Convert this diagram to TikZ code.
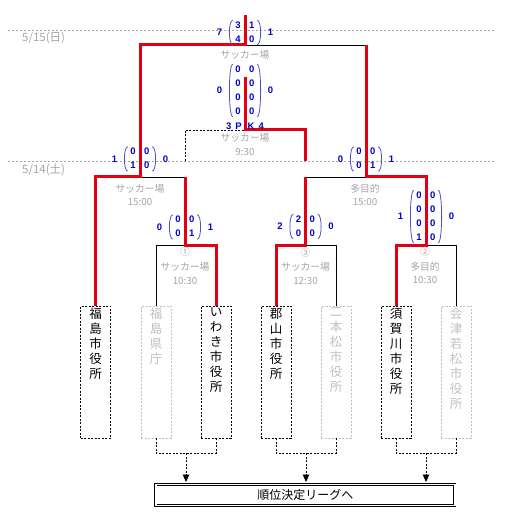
\documentclass[tikz,border=0pt]{standalone}
\usepackage{fontspec}
\setmainfont{Liberation Sans}
\newfontfamily\jp{Noto Sans CJK JP}
\usetikzlibrary{arrows.meta}
\definecolor{win}{RGB}{228,0,18}
\definecolor{lbl}{RGB}{165,165,165}
\definecolor{lose}{RGB}{192,192,192}
\definecolor{scoreblue}{RGB}{0,0,205}
\definecolor{parcol}{RGB}{80,80,200}
\tikzset{
  redl/.style={draw=win, line width=3pt},
  blk/.style={draw=black, line width=0.9pt},
  dsh/.style={draw=black, line width=0.9pt, dash pattern=on 2pt off 1.5pt},
  gridl/.style={draw=lbl, line width=0.7pt, dash pattern=on 2pt off 2pt},
  teambox/.style={draw=black, dash pattern=on 2pt off 1.5pt, line width=0.9pt, minimum width=30pt, minimum height=132pt, inner sep=0pt},
  losebox/.style={teambox, draw=lose},
  teamtxt/.style={anchor=north, align=center, font=\jp\fontsize{12.5}{15}\selectfont, inner sep=0pt},
  loseteam/.style={teamtxt, text=lose},
  lab/.style={text=lbl, font=\jp\fontsize{9.8}{11}\selectfont, inner sep=0pt},
  date/.style={text=lbl, font=\jp\fontsize{11.5}{13}\selectfont, inner sep=0pt, anchor=west},
  scr/.style={text=scoreblue, font=\bfseries\fontsize{9.5}{14}\selectfont, inner xsep=0pt, inner ysep=-2pt},
  tot/.style={text=scoreblue, font=\bfseries\fontsize{9.5}{11}\selectfont, inner sep=0pt},
  parl/.style={draw=parcol, line width=0.8pt},
  finbox/.style={draw=black, double, double distance=1.4pt, line width=0.8pt, minimum width=299pt, minimum height=21pt, font=\jp\fontsize{12}{14}\selectfont},
  arr/.style={dsh, -{Triangle[width=6.5pt,length=7.5pt]}}
}
\newcommand\ScoreBox[5]{%
  \node[scr] (#1) at #2 {\begin{tabular}{@{}c@{\hspace{8.5pt}}c@{}}#3\end{tabular}};
  \draw[parl] ([xshift=-2.5pt]#1.north west) .. controls ([xshift=-7pt]#1.north west) and ([xshift=-7pt]#1.south west) .. ([xshift=-2.5pt]#1.south west);
  \draw[parl] ([xshift=2.5pt]#1.north east) .. controls ([xshift=7pt]#1.north east) and ([xshift=7pt]#1.south east) .. ([xshift=2.5pt]#1.south east);
  \node[tot, anchor=east] (#1L) at ([xshift=-13pt]#1.west) {#4};
  \node[tot, anchor=west] (#1R) at ([xshift=13pt]#1.east) {#5};
}
\begin{document}
\begin{tikzpicture}[x=1pt,y=-1pt]
\useasboundingbox (0,0) rectangle (507,529);
\fill[white] (0,0) rectangle (507,529);
% day separators
\draw[gridl] (8,30) -- (495,30);
\draw[gridl] (8,161) -- (495,161);
\node[date] (d1) at (22,38) {5/15(日)};
\node[date] (d2) at (22,170) {5/14(土)};
% teams
\node[teambox] (t1) at (95.5,372) {};
\node[teamtxt] (t1n) at (95.5,308) {福\\島\\市\\役\\所};
\node[losebox] (t2) at (156,372) {};
\node[loseteam] (t2n) at (156,308) {福\\島\\県\\庁};
\node[teambox] (t3) at (216,372) {};
\node[teamtxt] (t3n) at (216,308) {い\\わ\\き\\市\\役\\所};
\node[teambox] (t4) at (276,372) {};
\node[teamtxt] (t4n) at (276,308) {郡\\山\\市\\役\\所};
\node[losebox] (t5) at (336,372) {};
\node[loseteam] (t5n) at (336,308) {二\\本\\松\\市\\役\\所};
\node[teambox] (t6) at (396,372) {};
\node[teamtxt] (t6n) at (396,308) {須\\賀\\川\\市\\役\\所};
\node[losebox] (t7) at (456,372) {};
\node[loseteam] (t7n) at (456,308) {会\\津\\若\\松\\市\\役\\所};
% junctions
\coordinate (r1) at (185,245);
\coordinate (r3) at (305.5,245);
\coordinate (r2) at (426,245);
\coordinate (sL) at (140,177);
\coordinate (sR) at (366,177);
\coordinate (fin) at (245,45);
\coordinate (top) at (245,15);
\coordinate (tp) at (245,130);
\coordinate (tpL) at (185,161);
\coordinate (tpR) at (305.5,161);
\coordinate (tpTop) at (245,77);
% black lines
\draw[blk] (t2.north) |- (r1);
\draw[blk] (r3) -| (t5.north);
\draw[blk] (r2) -| (t7.north);
\draw[blk] (sL) -- (r1 |- sL);
\draw[blk] (r3 |- sR) -- (sR);
\draw[blk] (fin) -- (sR |- fin);
\draw[dsh] (tpL) |- (tp);
% red winning paths
\draw[redl] (t1.north) |- (sL) -- (sL |- fin) -- (fin) -- (top);
\draw[redl] (t3.north) |- (r1) -- (r1 |- sL);
\draw[redl] (t4.north) |- (r3) -- (r3 |- sR);
\draw[redl] (t6.north) |- (r2) -- (r2 |- sR) -- (sR) -- (sR |- fin);
\draw[redl] (tpR) |- (tp) -- (tpTop);
% venue labels
\node[lab] (l0) at (245,55) {サッカー場};
\node[lab] (l3a) at (245,138) {サッカー場};
\node[lab] (l3b) at (245,152) {9:30};
\node[lab] (lsa) at (140,189) {サッカー場};
\node[lab] (lsb) at (140,202) {15:00};
\node[lab] (rsa) at (365,189) {多目的};
\node[lab] (rsb) at (365,202) {15:00};
\node[lab] (m1a) at (185,252) {①};
\node[lab] (m1b) at (185,267) {サッカー場};
\node[lab] (m1c) at (185,281) {10:30};
\node[lab] (m3a) at (305.5,253) {③};
\node[lab] (m3b) at (305.5,267) {サッカー場};
\node[lab] (m3c) at (305.5,281) {12:30};
\node[lab] (m2a) at (425,252) {②};
\node[lab] (m2b) at (425,267) {多目的};
\node[lab] (m2c) at (425,280) {10:30};
% scores
\ScoreBox{sf}{(245,32.5)}{3&1\\4&0}{7}{1}
\ScoreBox{sth}{(245,90.5)}{0&0\\0&0\\0&0\\0&0}{0}{0}
\node[tot] (pk) at (245,126) {3\hspace{4pt}P\hspace{6pt}K\hspace{4pt}4};
\ScoreBox{ssl}{(140,159)}{0&0\\1&0}{1}{0}
\ScoreBox{ssr}{(366,159)}{0&0\\0&1}{0}{1}
\ScoreBox{sma}{(185,227)}{0&0\\0&1}{0}{1}
\ScoreBox{smc}{(305.5,226.5)}{2&0\\0&0}{2}{0}
\ScoreBox{smb}{(426,216.5)}{0&0\\0&0\\0&0\\1&0}{1}{0}
% ranking league
\node[finbox] (rl) at (305.3,495) {順位決定リーグへ};
\coordinate (g1) at (186,453);
\coordinate (g2) at (306,453);
\coordinate (g3) at (426,453);
\coordinate (a1) at (186,482);
\coordinate (a2) at (306,482);
\coordinate (a3) at (426,482);
\draw[dsh] (t2.south) |- (g1) -| (t3.south);
\draw[dsh] (t4.south) |- (g2) -| (t5.south);
\draw[dsh] (t6.south) |- (g3) -| (t7.south);
\draw[arr] (g1) -- (a1);
\draw[arr] (g2) -- (a2);
\draw[arr] (g3) -- (a3);
\end{tikzpicture}
\end{document}
